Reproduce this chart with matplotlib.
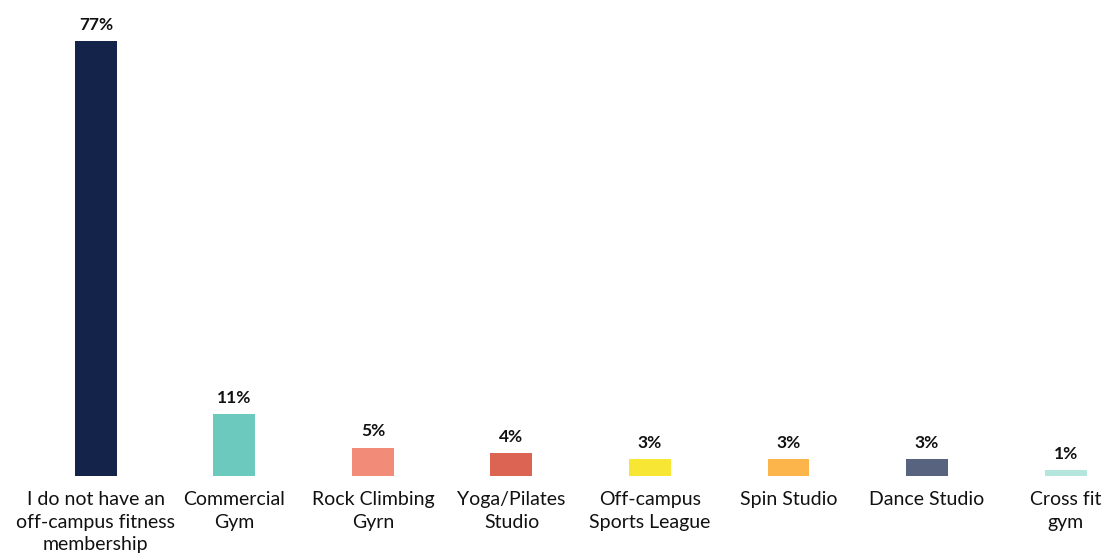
import matplotlib.pyplot as plt

categories = ["I do not have an\noff-campus fitness\nmembership", "Commercial\nGym", "Rock Climbing\nGyrn",
              "Yoga/Pilates\nStudio", "Off-campus\nSports League", "Spin Studio", "Dance Studio", "Cross fit\ngym"]
values = [77, 11, 5, 4, 3, 3, 3, 1]
colors = ["#14234a", "#6cc9be", "#f28b77", "#dc6452", "#f8e634", "#fbb54a", "#58647f", "#b4e6de"]

plt.rcParams['font.family'] = ['Lato', 'DejaVu Sans']

fig = plt.figure(figsize=(11.07, 5.54), dpi=100)
ax = fig.add_axes([0.0491, 0.1408, 0.951, 0.785])

x = range(len(values))
bars = ax.bar(x, values, width=0.303, color=colors)
for b, v in zip(bars, values):
    ax.annotate(f"{v}%", (b.get_x() + b.get_width() / 2, v), xytext=(0, 6),
                textcoords="offset points", ha="center", va="bottom",
                fontsize=12.5, fontweight="bold", color="#111111")

ax.set_xlim(-0.3, 7.3)
ax.set_ylim(0, 77)
ax.set_xticks(list(x))
ax.set_xticklabels(categories, fontsize=14, color="#111111", linespacing=1.4)
ax.tick_params(axis="x", length=0, pad=11)
ax.set_yticks([])
for s in ax.spines.values():
    s.set_visible(False)

fig.savefig("out.png", dpi=100)
